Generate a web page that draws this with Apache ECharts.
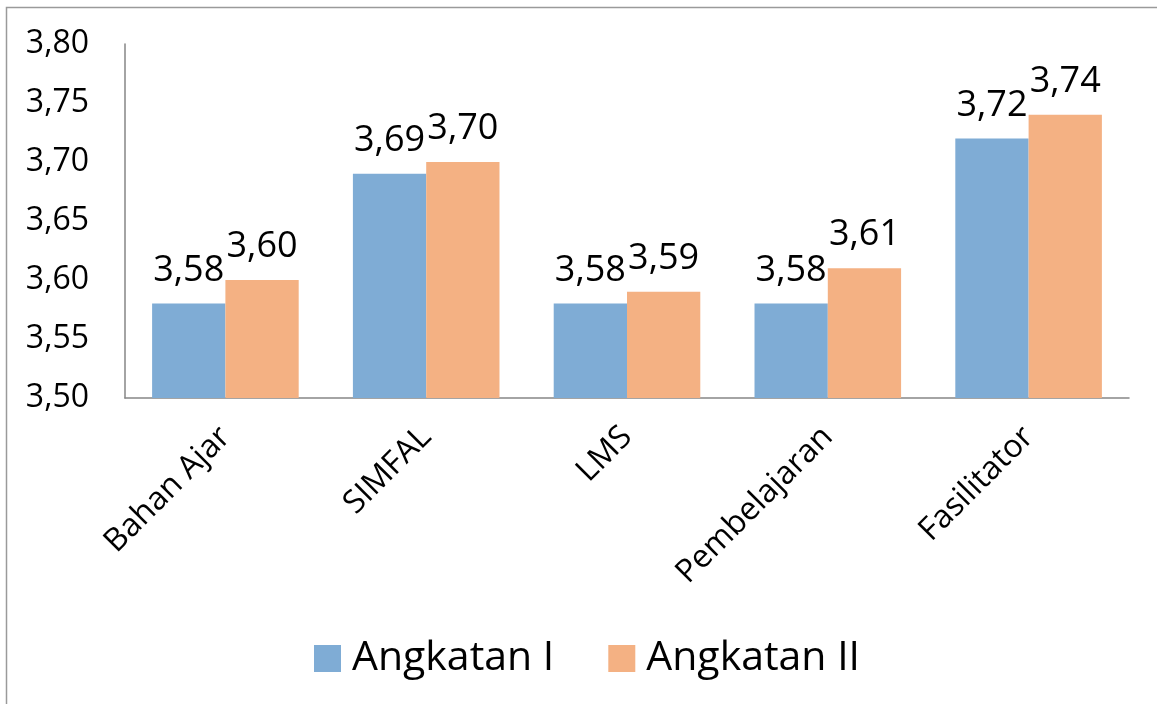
<!DOCTYPE html>
<html>
<head>
<meta charset="utf-8">
<script src="https://cdn.jsdelivr.net/npm/echarts@6/dist/echarts.min.js"></script>
<style>
html,body{margin:0;padding:0;background:#fff;}
#chart{width:1157px;height:704px;}
</style>
</head>
<body>
<div id="chart"></div>
<script>
var categories = ['Bahan Ajar', 'SIMFAL', 'LMS', 'Pembelajaran', 'Fasilitator'];
var seriesNames = ['Angkatan I', 'Angkatan II'];
var angkatan1 = [3.58, 3.69, 3.58, 3.58, 3.72];
var angkatan2 = [3.60, 3.70, 3.59, 3.61, 3.74];
var yMin = 3.50, yMax = 3.80, yStep = 0.05;

var FONT = '"Open Sans", "Noto Sans", sans-serif';
function fmt(v){ return v.toFixed(2).replace('.', ','); }

var chart = echarts.init(document.getElementById('chart'), null, {renderer:'canvas'});
var labelCfg = {
  show: true, position: 'top', distance: 15,
  color: '#000', fontFamily: FONT, fontSize: 36,
  formatter: function(p){ return fmt(p.value); }
};
chart.setOption({
  animation: false,
  backgroundColor: '#fff',
  graphic: [{
    type: 'rect', silent: true,
    shape: {x: 6.5, y: 7.5, width: 1200, height: 800},
    style: {fill: 'none', stroke: '#9a9a9a', lineWidth: 1.5}
  }],
  grid: {left: 125, right: 28, top: 44, bottom: 306, containLabel: false},
  legend: {
    data: seriesNames,
    left: 309, top: 633,
    itemWidth: 27, itemHeight: 27, itemGap: 54,
    icon: 'rect',
    textStyle: {fontFamily: FONT, fontSize: 41, color: '#000', padding: [0,0,0,6]}
  },
  xAxis: {
    type: 'category', data: categories,
    axisLine: {lineStyle: {color: '#868686', width: 1.5}},
    axisTick: {show: false},
    axisLabel: {rotate: 45, margin: 34, color: '#000', fontFamily: FONT, fontSize: 32, interval: 0}
  },
  yAxis: {
    type: 'value', min: yMin, max: yMax, interval: yStep,
    axisLine: {show: true, lineStyle: {color: '#868686', width: 1.5}},
    axisTick: {show: false},
    splitLine: {show: false},
    axisLabel: {margin: 36, color: '#000', fontFamily: FONT, fontSize: 32,
      formatter: function(v){ return fmt(v); }}
  },
  series: [
    {name: seriesNames[0], type: 'bar', data: angkatan1, barGap: '0%', barCategoryGap: '27%',
     itemStyle: {color: '#7facd5'}, label: labelCfg},
    {name: seriesNames[1], type: 'bar', data: angkatan2, barGap: '0%', barCategoryGap: '27%',
     itemStyle: {color: '#f4b183'}, label: labelCfg}
  ]
});
</script>
</body>
</html>
